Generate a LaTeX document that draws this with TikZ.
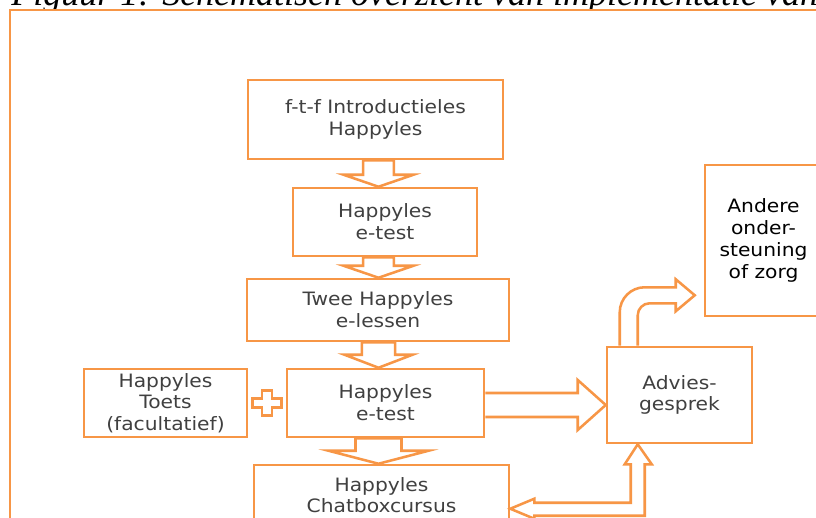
\documentclass[tikz,border=0pt]{standalone}
\usepackage{fontspec}
\setmainfont{DejaVu Sans}[FakeStretch=1.1]
\newfontfamily\titelfont{Liberation Serif}
\usetikzlibrary{calc}
\definecolor{oranje}{HTML}{F79646}
\definecolor{tekstgrijs}{HTML}{404040}
\tikzset{%
	blok/.style={draw=oranje, line width=1.9pt, fill=white, inner sep=0pt, align=center,%
		text=tekstgrijs, font=\fontsize{13.8}{16.3}\selectfont},%
	pijl/.style={draw=oranje, line width=1.9pt, fill=white, line join=miter},%
	kader/.style={draw=oranje, line width=1.3pt, fill=white},%
}

\begin{document}
\begin{tikzpicture}[x=0.75pt,y=-0.75pt] % 図の開始
\clip (0,0) rectangle (816,517);
\node[anchor=base west, inner sep=0pt, font=\titelfont\itshape\fontsize{27}{32}\selectfont] (titel) at (11,6) {Figuur 1: Schematisch overzicht van implementatie van};
\path (10,10) [kader] rectangle (840,560);
\coordinate (as) at (378.5,0);
\node[blok, minimum width=191.25pt, minimum height=59.25pt] (intro) at (375.5,119.5) {f-t-f Introductieles\\Happyles};
\node[blok, minimum width=138pt, minimum height=51pt] (etest) at (385,222) {Happyles\\e-test};
\node[blok, minimum width=196.5pt, minimum height=46.5pt] (elessen) at (378,310) {Twee Happyles\\e-lessen};
\node[blok, minimum width=147.75pt, minimum height=51pt] (etestb) at (385.5,403) {Happyles\\e-test};
\node[blok, minimum width=122.25pt, minimum height=51pt] (toets) at (165.5,403) {Happyles\\Toets\\(facultatief)};
\node[blok, minimum width=191.25pt, minimum height=45pt] (chat) at (381.5,495) {Happyles\\Chatboxcursus};
\node[blok, minimum width=108.75pt, minimum height=72pt] (advies) at (679.5,395) {Advies-\\gesprek};
\node[blok, minimum width=87.75pt, minimum height=113.25pt, text=black] (andere) at (763.5,240.5) {Andere\\onder-\\steuning\\of zorg};
\foreach \van/\naar/\s/\h/\l in%
{%
	intro/etest/11.6pt/26.25pt/9pt,%
	etest/elessen/11.6pt/26.25pt/9pt,%
	elessen/etestb/12.4pt/25.5pt/9.75pt,%
	etestb/chat/17.25pt/37.5pt/9.75pt%
}{%
	\path let \p1=(as |- \van.south), \p2=(as |- \naar.north) in [pijl]%
		(\x1-\s,\y1) -- (\x1-\s,\y2+\l) -- (\x1-\h,\y2+\l) -- (\x1,\y2)%
		-- (\x1+\h,\y2+\l) -- (\x1+\s,\y2+\l) -- (\x1+\s,\y1) -- cycle;%
}%
\coordinate (plus) at ($(toets.east)!0.5!(etestb.west)$);
\path (plus) [pijl] +(-10.9pt,3.4pt) -- +(-3.75pt,3.4pt) -- +(-3.75pt,9.4pt) -- +(3.75pt,9.4pt)
	-- +(3.75pt,3.4pt) -- +(10.9pt,3.4pt) -- +(10.9pt,-3.4pt) -- +(3.75pt,-3.4pt)
	-- +(3.75pt,-9.4pt) -- +(-3.75pt,-9.4pt) -- +(-3.75pt,-3.4pt) -- +(-10.9pt,-3.4pt) -- cycle;
\path let \p1=(etestb.east), \p2=(advies.west) in [pijl]
	(\x1,\y1+7.5pt) -- (\x2-21pt,\y1+7.5pt) -- (\x2-21pt,\y1+17.25pt) -- (\x2,\y1-1.5pt)
	-- (\x2-21pt,\y1-20.25pt) -- (\x2-21pt,\y1-10.5pt) -- (\x1,\y1-10.5pt);
\path let \p1=(advies.north west), \p2=(andere.south west) in [pijl]
	(\x1+10.5pt,\y1) -- (\x1+10.5pt,\y2+22.5pt-18.75pt) arc[start angle=180, end angle=90, radius=18.75pt]
	-- (\x2-21pt,\y2+22.5pt) -- (\x2-21pt,\y2+28.5pt) -- (\x2-6.75pt,\y2+16.5pt)
	-- (\x2-21pt,\y2+4.5pt) -- (\x2-21pt,\y2+10.5pt) -- (\x1+24pt+9pt,\y2+10.5pt)
	arc[start angle=90, end angle=180, radius=9pt] -- (\x1+24pt,\y1);
\path let \p1=(advies.south west), \p2=(chat.north east) in [pijl]
	(\x1+24pt,\y1) -- (\x1+34.5pt,\y1-15pt) -- (\x1+29.25pt,\y1-15pt) -- (\x1+29.25pt,\y2-39pt)
	-- (\x2+18pt,\y2-39pt) -- (\x2+18pt,\y2-41.25pt) -- (\x2,\y2-33.75pt) -- (\x2+18pt,\y2-26.25pt)
	-- (\x2+18pt,\y2-29.25pt) -- (\x1+18.75pt,\y2-29.25pt) -- (\x1+18.75pt,\y1-15pt)
	-- (\x1+14.25pt,\y1-15pt) -- cycle;
\end{tikzpicture}
\end{document}
